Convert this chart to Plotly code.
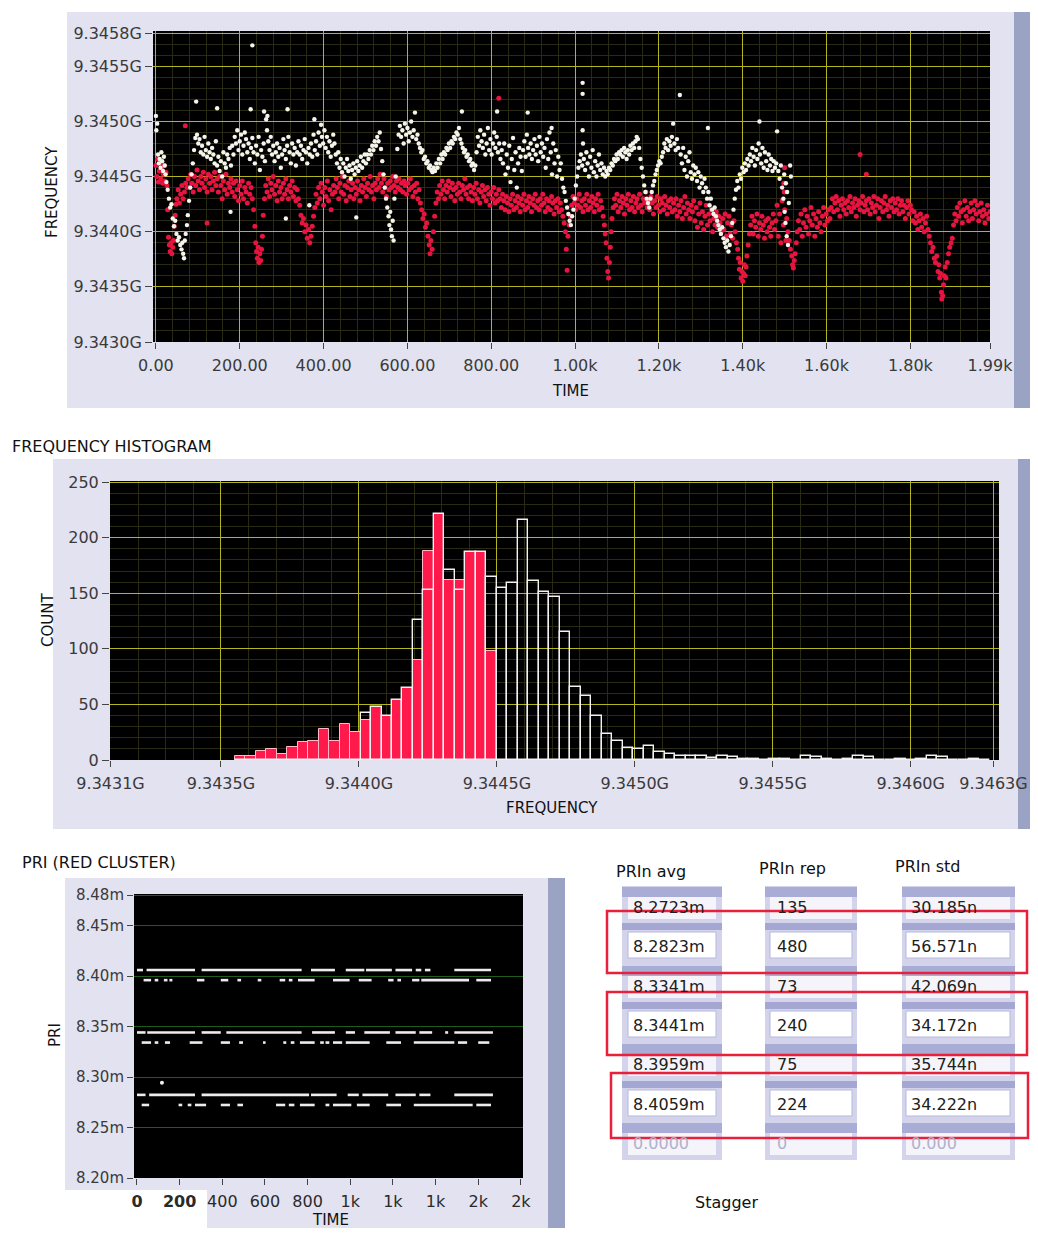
import plotly.graph_objects as go

# The page body has an 8px margin; the figure is sized so the page does not
# overflow the window, and all positions below are given in window pixels.
OFF = 8
W, H = 1038 - 2 * OFF, 1236 - 2 * OFF
def px(x): return (x - OFF) / W
def py(y): return 1 - (y - OFF) / H

# ---------------- FREQUENCY vs TIME (frequency in MHz) ----------------
white_pts = [
(0,9345.05),(1,9344.92),(3,9344.98),(5,9344.70),(7,9344.62),(9,9344.66),(11,9344.58),(13,9344.72),(15,9344.64),(17,9344.55),(19,9344.68),(21,9344.60),(23,9344.52),(25,9344.45),
(28,9344.38),(31,9344.30),(34,9344.22),(37,9344.25),(40,9344.12),(43,9344.05),(46,9344.10),(49,9343.98),(52,9343.92),(55,9343.95),(58,9343.88),(61,9343.84),(63,9343.90),(65,9343.80),(67,9343.76),(69,9343.92),(71,9343.98),(74,9344.06),(76,9344.15),(79,9344.28),(82,9344.40),(85,9344.52),(88,9344.62),(91,9344.74),(94,9344.85),(96,9345.18),
(98,9344.88),(101,9344.80),(104,9344.84),(107,9344.72),(110,9344.78),(113,9344.70),(116,9344.86),(119,9344.74),(122,9344.68),(125,9344.80),(128,9344.72),(131,9344.66),(134,9344.76),(137,9344.70),(140,9344.62),(143,9344.82),(146,9345.12),
(146,9344.60),(149,9344.68),(152,9344.55),(155,9344.64),(158,9344.50),(161,9344.72),(164,9344.62),(167,9344.58),(170,9344.70),(173,9344.66),(176,9344.76),(178,9344.18),(179,9344.60),
(182,9344.78),(185,9344.70),(188,9344.86),(191,9344.80),(194,9344.92),(197,9344.74),(200,9344.82),(203,9344.88),(206,9344.70),(209,9344.78),(212,9344.90),(215,9344.84),(218,9344.72),(221,9344.80),(224,9344.66),(226,9345.11),(227,9344.76),(230,9345.69),(230,9344.85),(233,9344.72),(236,9344.62),(239,9344.78),(242,9344.70),(245,9344.86),(248,9344.56),(251,9344.74),(254,9344.68),(257,9344.80),(258,9345.09),(260,9344.64),(263,9345.02),(266,9345.05),
(265,9344.92),(268,9344.82),(271,9344.74),(274,9344.86),(277,9344.70),(280,9344.78),(283,9344.64),(286,9344.72),(289,9344.80),(292,9344.68),(295,9344.76),(298,9344.58),(301,9344.70),(304,9344.84),(307,9344.74),(310,9344.66),(310,9344.12),(313,9344.78),(314,9345.11),(316,9344.86),(319,9344.72),(322,9344.62),(325,9344.80),(328,9344.70),(331,9344.76),(334,9344.60),(337,9344.72),(340,9344.82),
(343,9344.70),(346,9344.78),(349,9344.66),(352,9344.74),(355,9344.84),(358,9344.72),(361,9344.62),(364,9344.76),(366,9344.24),(367,9344.70),(370,9344.80),(373,9344.68),(376,9344.88),(378,9345.02),(379,9344.74),(382,9344.82),(385,9344.70),(388,9344.90),(391,9344.78),(394,9344.97),
(396,9344.86),(399,9344.80),(402,9344.92),(405,9344.76),(408,9344.86),(411,9344.72),(414,9344.82),(417,9344.68),(420,9344.78),(423,9344.88),(426,9344.80),
(429,9344.70),(432,9344.62),(435,9344.72),(438,9344.58),(441,9344.66),(444,9344.54),(447,9344.62),(450,9344.50),(453,9344.58),(456,9344.66),(459,9344.55),(462,9344.60),(465,9344.48),(468,9344.56),(471,9344.62),(474,9344.52),(477,9344.58),(478,9344.13),(480,9344.64),(483,9344.55),(486,9344.60),(489,9344.68),(492,9344.58),(495,9344.64),(498,9344.70),
(501,9344.62),(504,9344.70),(507,9344.66),(510,9344.74),(513,9344.70),(516,9344.78),(519,9344.74),(522,9344.82),(525,9344.78),(528,9344.86),(531,9344.82),(534,9344.90),
(537,9344.75),(540,9344.64),(543,9344.52),(546,9344.40),(549,9344.30),(552,9344.22),(555,9344.14),(557,9344.06),(559,9344.18),(561,9344.02),(563,9343.96),(565,9344.10),(567,9343.92),(569,9344.30),(572,9344.50),
(576,9344.75),(579,9344.88),(582,9344.96),(585,9344.86),(588,9344.92),(591,9344.80),(594,9344.98),(597,9344.88),(600,9344.94),(603,9344.82),(606,9344.90),(609,9345.00),(612,9344.86),(615,9344.92),(618,9345.08),(621,9344.84),(624,9344.88),
(627,9344.80),(630,9344.76),(633,9344.72),(636,9344.74),(639,9344.66),(642,9344.68),(645,9344.62),(648,9344.64),(651,9344.58),(654,9344.60),(657,9344.56),(660,9344.54),(663,9344.58),
(666,9344.55),(669,9344.62),(672,9344.58),(675,9344.66),(678,9344.62),(681,9344.70),(684,9344.66),(687,9344.72),(690,9344.70),(693,9344.76),(696,9344.74),(699,9344.80),(702,9344.76),(705,9344.82),(708,9344.80),(711,9344.86),(714,9344.84),(717,9344.90),(720,9344.88),(723,9344.94),(730,9345.09),
(726,9344.84),(729,9344.80),(732,9344.76),(735,9344.72),(738,9344.74),(741,9344.68),(744,9344.70),(747,9344.64),(750,9344.66),(753,9344.60),(756,9344.62),(759,9344.56),(762,9344.60),
(765,9344.72),(768,9344.86),(771,9344.78),(774,9344.92),(777,9344.82),(780,9344.76),(783,9344.88),(786,9344.70),(789,9344.80),(792,9344.94),(795,9344.74),(798,9344.84),(801,9344.70),(804,9344.80),(807,9344.90),(810,9344.76),(813,9344.86),(814,9345.09),(816,9344.72),(819,9344.80),(822,9344.66),(825,9344.74),
(828,9344.62),(831,9344.80),(834,9344.52),(837,9344.70),(840,9344.58),(843,9344.78),(846,9344.45),(849,9344.66),(852,9344.85),(855,9344.56),(858,9344.72),(861,9344.40),(864,9344.62),(867,9344.76),(870,9344.68),(873,9344.55),
(876,9344.74),(879,9344.82),(882,9344.68),(885,9344.88),(887,9345.08),(888,9344.76),(891,9344.70),(894,9344.80),(897,9344.66),(900,9344.74),(903,9344.84),(906,9344.70),(909,9344.78),(912,9344.64),(915,9344.86),(918,9344.72),(921,9344.80),(924,9344.68),
(927,9344.76),(930,9344.58),(933,9344.84),(936,9344.66),(939,9344.90),(942,9344.72),(944,9344.94),(945,9344.52),(948,9344.80),(951,9344.62),(954,9344.74),(957,9344.50),(960,9344.68),(963,9344.56),(966,9344.62),(969,9344.48),(972,9344.40),
(975,9344.36),(978,9344.28),(981,9344.22),(984,9344.16),(987,9344.10),(990,9344.06),(993,9344.14),(996,9344.20),(999,9344.30),(1002,9344.42),(1005,9344.50),
(1008,9344.58),(1011,9344.64),(1014,9344.70),(1017,9344.60),(1018,9345.35),(1018,9345.25),(1018,9344.92),(1019,9344.80),
(1021,9344.66),(1024,9344.56),(1027,9344.72),(1030,9344.62),(1033,9344.50),(1036,9344.68),(1039,9344.58),(1042,9344.74),(1045,9344.54),(1048,9344.64),(1051,9344.50),(1054,9344.60),(1057,9344.70),(1060,9344.56),(1063,9344.62),(1066,9344.52),(1069,9344.58),
(1072,9344.50),(1075,9344.55),(1078,9344.52),(1081,9344.58),(1084,9344.56),(1087,9344.62),(1090,9344.60),(1093,9344.66),(1096,9344.64),(1099,9344.70),(1102,9344.66),(1105,9344.72),(1108,9344.70),
(1111,9344.74),(1114,9344.68),(1117,9344.76),(1120,9344.72),(1123,9344.66),(1126,9344.74),(1129,9344.70),(1132,9344.78),(1135,9344.74),(1138,9344.80),(1141,9344.76),(1144,9344.82),(1147,9344.86),(1150,9344.84),
(1153,9344.76),(1156,9344.66),(1159,9344.58),(1162,9344.50),(1165,9344.42),(1168,9344.36),(1171,9344.30),(1174,9344.26),(1177,9344.22),
(1180,9344.30),(1183,9344.36),(1186,9344.42),(1189,9344.46),(1192,9344.52),(1195,9344.56),(1198,9344.60),(1201,9344.64),(1204,9344.62),(1207,9344.68),
(1210,9344.72),(1213,9344.80),(1216,9344.76),(1219,9344.84),(1222,9344.74),(1225,9344.82),(1228,9344.78),(1231,9344.86),(1234,9344.98),(1237,9344.80),(1240,9344.74),(1243,9344.84),(1246,9344.76),(1250,9345.24),
(1252,9344.70),(1255,9344.62),(1258,9344.76),(1261,9344.56),(1264,9344.68),(1267,9344.50),(1270,9344.64),(1273,9344.72),(1276,9344.54),(1279,9344.48),(1282,9344.60),(1285,9344.52),
(1288,9344.58),(1291,9344.46),(1294,9344.54),(1297,9344.40),(1300,9344.50),(1303,9344.44),(1306,9344.36),(1309,9344.48),(1312,9344.40),(1315,9344.30),(1317,9344.94),(1318,9344.36),(1321,9344.24),(1324,9344.30),(1327,9344.20),(1330,9344.16),(1333,9344.22),
(1336,9344.14),(1339,9344.10),(1342,9344.06),(1345,9344.02),(1348,9343.98),(1351,9344.04),(1354,9343.94),(1357,9343.90),(1360,9343.86),(1363,9343.92),(1366,9343.82),(1369,9343.88),(1372,9343.96),(1375,9344.08),(1378,9344.20),(1381,9344.30),
(1384,9344.38),(1387,9344.46),(1390,9344.40),(1393,9344.52),(1396,9344.48),(1399,9344.58),(1402,9344.54),(1405,9344.62),(1408,9344.56),(1411,9344.66),(1414,9344.60),
(1417,9344.70),(1420,9344.64),(1423,9344.76),(1426,9344.68),(1429,9344.60),(1432,9344.74),(1435,9344.66),(1438,9344.80),(1440,9345.00),(1441,9344.70),(1444,9344.62),(1447,9344.76),(1450,9344.58),(1453,9344.72),(1456,9344.64),(1459,9344.56),(1462,9344.70),(1465,9344.60),(1468,9344.66),(1471,9344.55),(1474,9344.64),(1477,9344.58),(1480,9344.62),(1482,9344.91),
(1485,9344.55),(1488,9344.48),(1491,9344.60),(1494,9344.40),(1497,9344.30),(1499,9344.52),(1500,9344.18),(1502,9344.08),(1503,9344.44),(1505,9343.96),(1506,9344.36),(1508,9343.88),(1510,9344.26),(1513,9344.60),(1515,9344.50),
]

red_pts = [
(0,9344.60),(2,9344.50),(4,9344.66),(6,9344.45),(8,9344.55),(10,9344.62),(12,9344.48),(14,9344.58),(16,9344.44),(18,9344.52),(20,9344.60),(22,9344.46),(24,9344.54),(26,9344.42),
(28,9344.20),(30,9343.95),(32,9343.88),(34,9343.82),(36,9343.90),(38,9343.80),(40,9343.86),(42,9343.92),(44,9344.05),(46,9344.15),(48,9344.25),
(50,9344.30),(53,9344.38),(56,9344.26),(59,9344.34),(62,9344.42),(65,9344.30),(68,9344.36),(70,9344.96),(71,9344.44),(74,9344.40),
(77,9344.48),(80,9344.40),(83,9344.52),(86,9344.44),(89,9344.36),(92,9344.50),(95,9344.42),(98,9344.56),(101,9344.46),(104,9344.38),(107,9344.50),(110,9344.44),(113,9344.54),(116,9344.40),(119,9344.48),(122,9344.08),(122,9344.36),(125,9344.52),(128,9344.44),(131,9344.50),(134,9344.38),(137,9344.46),(140,9344.54),(143,9344.42),(146,9344.48),
(149,9344.36),(152,9344.50),(155,9344.42),(158,9344.30),(161,9344.46),(164,9344.38),(167,9344.52),(170,9344.34),(173,9344.44),(176,9344.40),(179,9344.48),(182,9344.36),(185,9344.44),
(188,9344.32),(191,9344.46),(194,9344.38),(197,9344.28),(200,9344.42),(203,9344.34),(206,9344.46),(209,9344.30),(212,9344.40),(215,9344.36),(218,9344.26),(221,9344.44),(224,9344.34),(227,9344.40),(230,9344.30),(233,9344.20),
(236,9344.05),(238,9343.90),(240,9343.82),(242,9343.76),(244,9343.86),(246,9343.72),(248,9343.80),(250,9343.74),(252,9343.84),(254,9343.96),(256,9344.15),
(259,9344.30),(262,9344.42),(265,9344.36),(268,9344.48),(271,9344.32),(274,9344.44),(277,9344.38),(280,9344.50),(283,9344.34),(286,9344.42),(289,9344.28),(292,9344.46),(295,9344.36),(298,9344.40),(301,9344.30),(304,9344.44),(307,9344.34),(310,9344.48),(313,9344.38),(316,9344.30),(319,9344.42),(322,9344.36),(325,9344.46),(328,9344.32),(331,9344.40),(334,9344.28),(337,9344.38),(340,9344.30),(343,9344.24),
(346,9344.15),(349,9344.08),(352,9344.12),(355,9344.00),(358,9344.06),(361,9343.94),(364,9344.02),(367,9343.90),(370,9343.96),(373,9344.05),(376,9344.14),
(379,9344.22),(382,9344.34),(385,9344.26),(388,9344.40),(391,9344.30),(394,9344.44),(397,9344.36),(400,9344.24),(403,9344.40),(406,9344.32),(409,9344.46),(412,9344.28),(415,9344.38),(418,9344.20),(421,9344.34),(424,9344.42),
(427,9344.36),(430,9344.48),(433,9344.40),(436,9344.30),(439,9344.44),(442,9344.36),(445,9344.50),(448,9344.34),(451,9344.42),(454,9344.28),(457,9344.40),(460,9344.46),(463,9344.32),(466,9344.38),(469,9344.44),(472,9344.30),(475,9344.40),(478,9344.34),(481,9344.46),(484,9344.38),(487,9344.28),(490,9344.42),(493,9344.36),(496,9344.48),(499,9344.40),(502,9344.32),(505,9344.44),(508,9344.38),(511,9344.50),(514,9344.36),(517,9344.42),(520,9344.30),(523,9344.44),(526,9344.38),(529,9344.48),(532,9344.40),(535,9344.52),(538,9344.44),(541,9344.36),(544,9344.48),(547,9344.40),(550,9344.32),(553,9344.44),
(556,9344.38),(559,9344.46),(562,9344.40),(565,9344.50),(568,9344.42),(571,9344.36),(574,9344.46),(577,9344.40),(580,9344.48),(583,9344.38),(586,9344.44),(589,9344.36),(592,9344.46),(595,9344.42),(598,9344.34),(601,9344.44),(604,9344.38),(607,9344.48),(610,9344.40),(613,9344.32),(616,9344.42),(619,9344.36),(622,9344.44),(625,9344.30),(628,9344.38),(631,9344.26),(634,9344.20),
(637,9344.12),(640,9344.16),(643,9344.04),(646,9344.08),(649,9343.96),(652,9343.88),(654,9343.80),(656,9343.92),(659,9343.84),(662,9344.00),(665,9344.14),
(668,9344.26),(671,9344.36),(674,9344.30),(677,9344.42),(680,9344.34),(683,9344.46),(686,9344.38),(689,9344.30),(692,9344.42),(695,9344.36),(698,9344.46),(701,9344.40),(704,9344.32),(707,9344.44),(710,9344.38),(713,9344.28),(716,9344.40),(719,9344.34),(722,9344.44),(725,9344.36),(728,9344.30),(731,9344.42),(734,9344.38),(737,9344.48),(740,9344.34),(743,9344.40),(746,9344.30),(749,9344.42),(752,9344.36),(755,9344.28),(758,9344.40),(761,9344.34),(764,9344.44),(767,9344.30),(770,9344.38),(773,9344.26),(776,9344.36),(779,9344.42),(782,9344.32),(785,9344.38),(788,9344.28),(791,9344.40),(794,9344.34),(797,9344.24),(800,9344.36),(803,9344.30),(806,9344.40),(809,9344.26),(812,9344.34),(815,9344.28),(818,9345.21),(818,9344.38),(821,9344.30),(824,9344.22),(827,9344.34),(830,9344.28),
(833,9344.20),(836,9344.32),(839,9344.26),(842,9344.18),(845,9344.30),(848,9344.24),(851,9344.34),(854,9344.20),(857,9344.28),(860,9344.22),(863,9344.32),(866,9344.26),(869,9344.18),(872,9344.30),(875,9344.24),(878,9344.34),(881,9344.20),(884,9344.28),(887,9344.22),(890,9344.32),(893,9344.26),(896,9344.18),(899,9344.30),(902,9344.24),(905,9344.34),(908,9344.22),(911,9344.28),(914,9344.20),(917,9344.30),(920,9344.24),(923,9344.34),(926,9344.26),(929,9344.18),(932,9344.30),(935,9344.22),(938,9344.28),(941,9344.20),(944,9344.32),(947,9344.26),(950,9344.16),(953,9344.28),(956,9344.22),(959,9344.30),(962,9344.18),(965,9344.26),(968,9344.20),(971,9344.14),
(974,9344.08),(977,9344.00),(979,9343.84),(981,9343.65),(983,9343.96),(986,9344.06),(989,9344.14),
(992,9344.24),(995,9344.32),(998,9344.26),(1001,9344.20),(1004,9344.30),(1007,9344.24),(1010,9344.34),(1013,9344.22),(1016,9344.28),(1019,9344.18),(1022,9344.30),(1025,9344.24),(1028,9344.34),(1031,9344.20),(1034,9344.28),(1037,9344.22),(1040,9344.32),(1043,9344.26),(1046,9344.18),(1049,9344.30),(1052,9344.24),(1055,9344.34),(1058,9344.20),(1061,9344.28),(1064,9344.22),(1067,9344.14),
(1070,9344.06),(1072,9343.98),(1074,9343.90),(1076,9343.76),(1078,9343.64),(1080,9343.58),(1082,9343.72),(1084,9343.86),(1086,9344.00),(1088,9344.12),
(1091,9344.22),(1094,9344.30),(1097,9344.24),(1100,9344.34),(1103,9344.18),(1106,9344.28),(1109,9344.22),(1112,9344.32),(1115,9344.26),(1118,9344.16),(1121,9344.30),(1124,9344.24),(1127,9344.34),(1130,9344.20),(1133,9344.28),(1136,9344.22),(1139,9344.32),(1142,9344.18),(1145,9344.26),(1148,9344.30),(1151,9344.22),(1154,9344.34),(1157,9344.24),(1160,9344.18),(1163,9344.30),(1166,9344.26),(1169,9344.36),(1172,9344.22),(1175,9344.28),(1178,9344.20),(1181,9344.32),(1184,9344.26),(1187,9344.16),(1190,9344.28),(1193,9344.22),(1196,9344.32),(1199,9344.24),(1202,9344.18),(1205,9344.30),(1208,9344.26),(1211,9344.20),(1214,9344.32),(1217,9344.24),(1220,9344.16),(1223,9344.28),(1226,9344.22),(1229,9344.30),(1232,9344.18),(1235,9344.26),
(1238,9344.20),(1241,9344.30),(1244,9344.14),(1247,9344.24),(1250,9344.18),(1253,9344.28),(1256,9344.12),(1259,9344.22),(1262,9344.32),(1265,9344.16),(1268,9344.26),(1271,9344.20),(1274,9344.12),(1277,9344.24),(1280,9344.18),(1283,9344.28),
(1286,9344.10),(1289,9344.22),(1292,9344.04),(1295,9344.16),(1298,9344.26),(1301,9344.08),(1304,9344.18),(1307,9344.02),(1310,9344.14),(1313,9344.24),(1316,9344.06),(1319,9344.16),(1322,9344.10),(1325,9344.20),(1328,9344.00),(1331,9344.12),(1334,9344.06),(1337,9344.18),(1340,9344.04),(1343,9344.14),(1346,9344.08),(1349,9344.00),
(1352,9344.12),(1355,9344.02),(1358,9344.16),(1361,9343.96),(1364,9344.08),(1367,9344.14),(1370,9343.98),(1373,9344.06),(1376,9343.94),(1379,9344.10),(1382,9344.00),(1385,9343.90),(1388,9343.84),
(1390,9343.76),(1392,9343.66),(1394,9343.72),(1396,9343.58),(1398,9343.64),(1400,9343.55),(1402,9343.62),(1404,9343.70),(1406,9343.60),(1408,9343.68),(1410,9343.78),(1413,9343.88),(1416,9343.98),
(1419,9344.06),(1422,9344.14),(1425,9343.98),(1428,9344.10),(1431,9344.04),(1434,9344.16),(1437,9343.96),(1440,9344.08),(1443,9344.02),(1446,9344.14),(1449,9344.06),(1452,9343.94),(1455,9344.10),(1458,9344.00),(1461,9344.12),(1464,9344.04),(1467,9343.96),(1470,9344.08),(1473,9344.16),(1476,9344.02),(1479,9344.10),
(1482,9344.24),(1485,9343.96),(1488,9344.16),(1491,9343.90),(1494,9344.28),(1497,9344.06),(1498,9344.44),(1499,9344.36),(1500,9344.58),(1500,9344.20),(1503,9343.92),(1505,9344.12),
(1508,9344.00),(1511,9343.92),(1514,9343.84),(1517,9343.78),(1519,9343.70),(1521,9343.67),(1523,9343.74),(1525,9343.80),(1528,9343.90),(1530,9344.00),
(1533,9344.10),(1536,9344.02),(1539,9344.16),(1542,9343.96),(1545,9344.08),(1548,9344.20),(1551,9344.04),(1554,9344.14),(1557,9343.98),(1560,9344.10),(1563,9344.22),(1566,9344.06),(1569,9344.16),(1572,9343.96),(1575,9344.12),(1578,9344.04),(1581,9344.18),(1584,9344.08),(1587,9344.00),(1590,9344.14),(1593,9344.22),(1596,9344.06),(1599,9344.16),(1602,9344.10),(1605,9344.20),(1608,9344.12),
(1611,9344.22),(1614,9344.30),(1617,9344.18),(1620,9344.26),(1623,9344.32),(1626,9344.20),(1629,9344.28),(1632,9344.14),(1635,9344.24),(1638,9344.30),(1641,9344.20),(1644,9344.26),(1647,9344.16),(1650,9344.28),(1653,9344.22),(1656,9344.32),(1659,9344.18),(1662,9344.26),(1665,9344.22),(1668,9344.30),(1671,9344.14),(1674,9344.24),(1677,9344.28),(1680,9344.70),(1680,9344.20),(1683,9344.26),(1686,9344.32),(1689,9344.18),(1692,9344.24),(1695,9344.52),(1695,9344.28),(1698,9344.20),(1701,9344.30),(1704,9344.16),(1707,9344.26),(1710,9344.22),(1713,9344.32),(1716,9344.18),(1719,9344.24),(1722,9344.30),(1725,9344.12),(1728,9344.22),(1731,9344.28),(1734,9344.18),(1737,9344.26),(1740,9344.32),(1743,9344.20),(1746,9344.24),(1749,9344.14),(1752,9344.28),(1755,9344.22),(1758,9344.30),(1761,9344.18),(1764,9344.26),(1767,9344.20),(1770,9344.30),(1773,9344.16),(1776,9344.24),(1779,9344.28),(1782,9344.18),(1785,9344.24),(1788,9344.12),(1791,9344.22),(1794,9344.28),(1797,9344.16),(1800,9344.24),(1803,9344.20),(1806,9344.10),(1809,9344.18),
(1812,9344.08),(1815,9344.14),(1818,9344.02),(1821,9344.10),(1824,9344.16),(1827,9344.04),(1830,9344.12),(1833,9344.00),(1836,9344.08),(1839,9344.14),(1842,9344.02),(1845,9343.96),
(1848,9343.90),(1851,9343.82),(1854,9343.86),(1857,9343.76),(1860,9343.72),(1863,9343.78),(1866,9343.64),(1868,9343.70),(1870,9343.58),(1872,9343.62),(1874,9343.45),(1875,9343.39),(1877,9343.42),(1879,9343.52),(1881,9343.60),(1883,9343.68),(1885,9343.58),(1888,9343.72),(1891,9343.80),(1894,9343.86),(1897,9343.90),(1900,9343.94),
(1903,9344.06),(1906,9344.16),(1909,9344.10),(1912,9344.22),(1915,9344.14),(1918,9344.26),(1921,9344.18),(1924,9344.08),(1927,9344.20),(1930,9344.28),(1933,9344.14),(1936,9344.22),(1939,9344.10),(1942,9344.18),(1945,9344.26),(1948,9344.12),(1951,9344.20),(1954,9344.28),(1957,9344.16),(1960,9344.24),(1963,9344.10),(1966,9344.18),(1969,9344.26),(1972,9344.14),(1975,9344.20),(1978,9344.08),(1981,9344.16),(1984,9344.24),(1987,9344.12),(1990,9344.18),
]

time_tickvals = [0, 200, 400, 600, 800, 1000, 1200, 1400, 1600, 1800, 1990]
time_ticktext = ["0.00", "200.00", "400.00", "600.00", "800.00", "1.00k", "1.20k", "1.40k", "1.60k", "1.80k", "1.99k"]
freq_tickvals = [9343.0, 9343.5, 9344.0, 9344.5, 9345.0, 9345.5, 9345.8]
freq_ticktext = ["9.3430G", "9.3435G", "9.3440G", "9.3445G", "9.3450G", "9.3455G", "9.3458G"]

# ---------------- FREQUENCY HISTOGRAM ----------------
bin_start_mhz = 9343.55
bin_width_mhz = 0.038
red_counts = [4, 4, 8, 10, 5, 12, 16, 17, 28, 17, 32, 25, 36, 48, 40, 54, 65, 90, 188, 221, 162, 162, 187, 187, 98]
white_counts = [0, 0, 0, 0, 0, 0, 0, 0, 0, 0, 0, 0, 42, 48, 40, 54, 65, 126, 153, 221, 171, 153, 187, 187, 165,
                155, 159, 216, 161, 151, 147, 115, 66, 58, 40, 23, 17, 11, 10, 13, 7, 5, 4, 4, 4, 2, 4, 3, 1, 1,
                0, 1, 1, 0, 4, 3, 1, 0, 1, 4, 3, 0, 0, 1, 0, 1, 4, 3, 0, 0, 1, 0]
hist_tickvals = [9343.1, 9343.5, 9344.0, 9344.5, 9345.0, 9345.5, 9346.0, 9346.3]
hist_ticktext = ["9.3431G", "9.3435G", "9.3440G", "9.3445G", "9.3450G", "9.3455G", "9.3460G", "9.3463G"]
count_tickvals = [0, 50, 100, 150, 200, 250]

# ---------------- PRI (RED CLUSTER): runs of pulses at each PRI level (ms) ----------------
pri_runs = {
    8.4059: [(0, 28), (45, 272), (303, 772), (816, 928), (979, 1066), (1074, 1195), (1212, 1290), (1307, 1333), (1350, 1376), (1488, 1660)],
    8.3959: [(31, 66), (83, 100), (126, 143), (152, 166), (281, 316), (393, 428), (471, 488), (566, 583), (669, 695), (712, 729), (755, 833), (919, 997), (1040, 1100), (1178, 1203), (1221, 1238), (1290, 1324), (1333, 1557), (1591, 1660)],
    8.3441: [(0, 40), (48, 272), (303, 393), (419, 772), (821, 928), (979, 1022), (1066, 1186), (1212, 1307), (1324, 1384), (1445, 1459), (1488, 1669)],
    8.3341: [(22, 66), (83, 100), (131, 155), (247, 307), (393, 436), (479, 497), (591, 603), (686, 700), (721, 738), (764, 833), (859, 876), (884, 902), (919, 962), (979, 1091), (1169, 1238), (1298, 1488), (1505, 1548), (1600, 1652)],
    8.2823: [(0, 40), (57, 272), (303, 807), (816, 936), (988, 1040), (1057, 1178), (1212, 1307), (1324, 1376), (1488, 1669)],
    8.2723: [(22, 57), (195, 212), (238, 255), (272, 324), (393, 436), (471, 497), (652, 695), (712, 738), (764, 833), (884, 902), (919, 1005), (1031, 1091), (1169, 1238), (1298, 1574), (1591, 1660)],
}
pri_outlier_t = [117]
pri_outlier_v = [8.2944]
pri_x_tickvals = [0, 200, 400, 600, 800, 1000, 1200, 1400, 1600, 1800]
pri_x_ticktext = ["<b>0</b>", "<b>200</b>", "400", "600", "800", "1k", "1k", "1k", "2k", "2k"]
pri_y_tickvals = [8.20, 8.25, 8.30, 8.35, 8.40, 8.45, 8.48]
pri_y_ticktext = ["8.20m", "8.25m", "8.30m", "8.35m", "8.40m", "8.45m", "8.48m"]

# ---------------- table ----------------
prin_avg = ["8.2723m", "8.2823m", "8.3341m", "8.3441m", "8.3959m", "8.4059m", "0.0000"]
prin_rep = ["135", "480", "73", "240", "75", "224", "0"]
prin_std = ["30.185n", "56.571n", "42.069n", "34.172n", "35.744n", "34.222n", "0.000"]
stagger_rows = [1, 3, 5]

# =====================================================================
fig = go.Figure()

fig.add_trace(go.Scatter(x=[p[0] for p in red_pts], y=[p[1] for p in red_pts], mode="markers",
                         marker=dict(color="#e8143f", size=5, line=dict(width=0)), xaxis="x", yaxis="y"))
fig.add_trace(go.Scatter(x=[p[0] for p in white_pts], y=[p[1] for p in white_pts], mode="markers",
                         marker=dict(color="#f4f4ea", size=4.4, line=dict(width=0)), xaxis="x", yaxis="y"))

red_x = [bin_start_mhz + bin_width_mhz * (i + 0.5) for i in range(len(red_counts))]
white_x = [bin_start_mhz + bin_width_mhz * (i + 0.5) for i in range(len(white_counts))]
fig.add_trace(go.Bar(x=red_x, y=red_counts, width=bin_width_mhz, xaxis="x2", yaxis="y2",
                     marker=dict(color="#ff1a4b", line=dict(color="#ffb8c6", width=1))))
fig.add_trace(go.Bar(x=white_x, y=white_counts, width=bin_width_mhz, xaxis="x2", yaxis="y2",
                     marker=dict(color="rgba(0,0,0,0)", line=dict(color="#f2f2f2", width=1.4))))

for level, runs in pri_runs.items():
    xs, ys = [], []
    for a, b in runs:
        xs += [a, b, None]
        ys += [level, level, None]
    fig.add_trace(go.Scatter(x=xs, y=ys, mode="lines", line=dict(color="#ececec", width=2.6),
                             xaxis="x3", yaxis="y3", connectgaps=False))
fig.add_trace(go.Scatter(x=pri_outlier_t, y=pri_outlier_v, mode="markers",
                         marker=dict(color="#f0f0f0", size=4), xaxis="x3", yaxis="y3"))

tickfont = dict(family="DejaVu Sans", size=16, color="#3a3a3a")
yellow = "#b4b41c"
minor_col = "#2a2a12"

common = dict(automargin=False, zeroline=False, showline=False)

fig.update_layout(
    width=W, height=H, margin=dict(l=0, r=0, t=0, b=0, pad=0), autosize=False,
    paper_bgcolor="white", plot_bgcolor="black", showlegend=False,
    barmode="overlay", bargap=0,
    font=dict(family="DejaVu Sans", size=15, color="#222"),
    xaxis=dict(domain=[px(153), px(990)], range=[-7, 1990], anchor="y",
               tickmode="array", tickvals=time_tickvals, ticktext=time_ticktext, tickfont=tickfont,
               showgrid=True, gridcolor=yellow, gridwidth=1,
               ticks="outside", ticklen=6, tickcolor="#444", ticklabelstandoff=3,
               minor=dict(tickmode="linear", tick0=0, dtick=40, showgrid=True, gridcolor=minor_col, ticks=""), **common),
    yaxis=dict(domain=[py(342), py(31)], range=[9343.0, 9345.82], anchor="x",
               tickmode="array", tickvals=freq_tickvals, ticktext=freq_ticktext, tickfont=tickfont,
               showgrid=True, gridcolor=yellow, gridwidth=1,
               ticks="outside", ticklen=7, tickcolor="#444",
               minor=dict(tickmode="linear", tick0=9343.0, dtick=0.1, showgrid=True, gridcolor=minor_col, ticks=""), **common),
    xaxis2=dict(domain=[px(110), px(999)], range=[9343.098, 9346.32], anchor="y2",
                tickmode="array", tickvals=hist_tickvals, ticktext=hist_ticktext, tickfont=tickfont,
                showgrid=True, gridcolor=yellow, gridwidth=1,
                ticks="outside", ticklen=6, tickcolor="#444", ticklabelstandoff=3,
                minor=dict(tickmode="linear", tick0=9343.0, dtick=0.1, showgrid=True, gridcolor=minor_col, ticks=""), **common),
    yaxis2=dict(domain=[py(760), py(481)], range=[0, 251], anchor="x2",
                tickmode="array", tickvals=count_tickvals, tickfont=tickfont,
                showgrid=True, gridcolor=yellow, gridwidth=1,
                ticks="outside", ticklen=7, tickcolor="#444",
                minor=dict(tickmode="linear", tick0=0, dtick=10, showgrid=True, gridcolor=minor_col, ticks=""), **common),
    xaxis3=dict(domain=[px(134), px(523)], range=[-14, 1810], anchor="y3",
                tickmode="array", tickvals=pri_x_tickvals, ticktext=pri_x_ticktext,
                tickfont=dict(family="DejaVu Sans", size=16, color="#2a2a2a"),
                showgrid=False, ticks="outside", ticklen=6, tickcolor="#444", ticklabelstandoff=3, **common),
    yaxis3=dict(domain=[py(1178), py(894)], range=[8.20, 8.4812], anchor="x3",
                tickmode="array", tickvals=pri_y_tickvals, ticktext=pri_y_ticktext,
                tickfont=dict(family="DejaVu Sans", size=15, color="#3a3a3a"),
                showgrid=True, gridcolor="#1d5e1d", gridwidth=1,
                ticks="outside", ticklen=6, tickcolor="#444", **common),
)

shapes = []
def rect(x0, y0, x1, y1, fill, line=None, lw=0, layer="below"):
    return dict(type="rect", xref="paper", yref="paper", x0=px(x0), x1=px(x1), y0=py(y1), y1=py(y0),
                fillcolor=fill, layer=layer, line=dict(width=lw, color=line or fill))

frame_col = "#e2e2f1"
strip_col = "#9ba3c4"
shapes.append(rect(67, 12, 1030, 408, frame_col))
shapes.append(rect(1014, 12, 1030, 408, strip_col))
shapes.append(rect(53, 459, 1030, 829, frame_col))
shapes.append(rect(1018, 459, 1030, 829, strip_col))
pts = [(65, 878), (565, 878), (565, 1228), (207, 1228), (207, 1190), (65, 1190)]
path = "M " + " L ".join(f"{px(a)},{py(b)}" for a, b in pts) + " Z"
shapes.append(dict(type="path", xref="paper", yref="paper", path=path, fillcolor=frame_col,
                   line=dict(width=0), layer="below"))
shapes.append(rect(548, 878, 565, 1228, strip_col))

for xa, ya in [("x", "y"), ("x2", "y2"), ("x3", "y3")]:
    shapes.append(dict(type="rect", xref=f"{xa} domain", yref=f"{ya} domain", x0=0, x1=1, y0=0, y1=1,
                       fillcolor="black", line=dict(width=0), layer="below"))

cols = [(622, 722, 628, 716, 631), (765, 857, 770, 852, 775), (902, 1015, 906, 1010, 909)]
row_y = [906, 945, 985, 1024, 1063, 1103, 1142]
annotations = []
col_values = [prin_avg, prin_rep, prin_std]
for (ox0, ox1, ix0, ix1, tx), vals in zip(cols, col_values):
    shapes.append(rect(ox0, 886, ox1, 1160, "#d3d4eb"))
    for r, yc in enumerate(row_y):
        if r in stagger_rows:
            shapes.append(rect(ox0, yc - 22, ox1, yc - 15, "#a3a7d2"))
            shapes.append(rect(ix0, yc - 13, ix1, yc + 13, "white", "#b6b8dc", 1))
        else:
            shapes.append(rect(ix0, yc - 12, ix1, yc + 13, "#f4f4fa"))
            shapes.append(rect(ox0, yc - 19, ox1, yc - 9, "#a9acd4"))
        annotations.append(dict(xref="paper", yref="paper", x=px(tx), y=py(yc + 1), text=vals[r],
                                showarrow=False, xanchor="left", yanchor="middle",
                                font=dict(family="DejaVu Sans", size=16,
                                          color="#b0b0cc" if r == 6 else "#202020")))

for (x0, y0, x1, y1) in [(607, 911, 1027, 973), (607, 992, 1027, 1055), (611, 1073, 1028, 1138)]:
    shapes.append(dict(type="rect", xref="paper", yref="paper", x0=px(x0), x1=px(x1), y0=py(y1), y1=py(y0),
                       line=dict(color="#e8203c", width=2.5), fillcolor="rgba(0,0,0,0)", layer="above"))

def text(x, y, s, size=15, angle=0, anchor="center", color="#111"):
    annotations.append(dict(xref="paper", yref="paper", x=px(x), y=py(y), text=s, showarrow=False,
                            xanchor=anchor, yanchor="middle", textangle=angle,
                            font=dict(family="DejaVu Sans", size=size, color=color)))

text(52, 192, "FREQUENCY", 15, -90)
text(570, 391, "TIME", 15)
text(10, 447, "FREQUENCY HISTOGRAM", 16, anchor="left")
text(48, 620, "COUNT", 15, -90)
text(552, 808, "FREQUENCY", 15)
text(20, 863, "PRI (RED CLUSTER)", 16, anchor="left")
text(55, 1035, "PRI", 15, -90)
text(330, 1220, "TIME", 15)
text(614, 871, "PRIn avg", 16, anchor="left")
text(757, 868, "PRIn rep", 16, anchor="left")
text(893, 866, "PRIn std", 16, anchor="left")
text(726, 1202, "Stagger", 16)

fig.update_layout(shapes=shapes, annotations=annotations)
fig.write_html("out.html")
